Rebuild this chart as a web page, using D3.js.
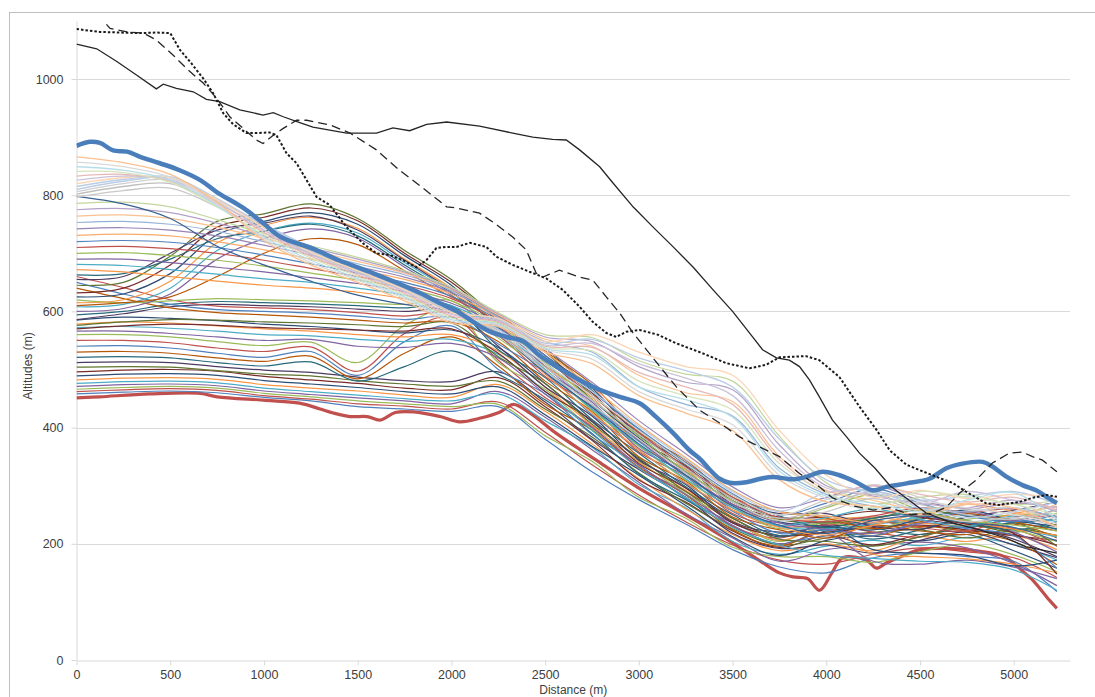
<!DOCTYPE html>
<html><head><meta charset="utf-8">
<script src="https://cdn.jsdelivr.net/npm/d3@7/dist/d3.min.js"></script>
<style>
body{margin:0;background:#fff;}
svg{display:block;font-family:"Liberation Sans",Arial,sans-serif;}
</style></head><body>
<svg id="chart" width="1095" height="697"></svg>
<script>
// ---------- data ----------
const distances = [0,250,500,750,1000,1250,1500,1750,2000,2250,2500,2750,3000,3250,3500,3750,4000,4250,4500,4750,5000,5230];
const xTicks = [0,500,1000,1500,2000,2500,3000,3500,4000,4500,5000];
const yTicks = [0,200,400,600,800,1000];
const xTitle = "Distance (m)";
const yTitle = "Altitudes (m)";

// low profiles (saturated colours, lowest starting altitudes)
const lowProfiles = [
 [458,461,463,460,452,446,436,432,428, 436,380,324,276,234,190,160,150,176,184,178,170,118],
 [462,465,467,464,455,449,441,437,432, 444,392,336,284,238,198,172,165,182,193,186,176,142],
 [466,469,471,468,459,453,446,441,436, 440,386,342,280,244,194,178,178,168,186,200,181,152],
 [471,474,475,472,463,457,451,446,441, 462,418,362,306,252,210,170,190,197,203,193,166,128],
 [476,479,480,477,468,462,456,450,446, 458,412,366,302,262,204,182,196,206,197,211,199,172],
 [482,485,486,483,474,468,463,456,452, 474,428,372,312,260,216,188,200,188,212,204,214,190],
 [489,492,493,490,481,475,469,462,458, 470,422,368,318,266,212,180,206,213,205,216,188,158],
 [496,499,500,497,488,482,476,468,465, 486,436,378,310,272,222,194,214,198,216,222,214,206],
 [504,505,504,498,492,489,481,475,471, 480,432,384,322,270,226,198,210,220,224,210,226,214],
 [512,513,512,505,499,495,487,481,479, 496,444,380,328,280,218,192,198,184,206,220,198,176],
 [521,522,520,512,506,513,480,505,532, 492,448,390,320,276,230,200,222,226,216,229,236,242],
 [530,531,528,520,514,523,484,528,556, 506,440,396,332,284,224,196,226,214,230,221,204,164],
 [540,541,537,528,521,531,490,548,575, 500,458,388,336,278,236,206,214,234,237,228,242,224],
 [550,550,546,537,531,539,497,562,590, 516,452,402,330,290,230,210,234,220,212,236,226,196],
 [560,560,556,548,541,547,512,576,602, 512,466,398,342,286,240,204,240,242,226,242,250,252],
 [566,566,562,556,550,552,540,538,545, 520,458,400,335,285,232,200,218,170,165,172,160,140],
 [572,574,571,566,560,558,552,548,552, 526,462,395,330,280,228,198,180,175,170,168,155,120],
 [578,582,580,575,570,566,560,556,560, 532,470,404,340,292,240,206,228,182,178,174,165,150],
 [585,590,588,584,578,574,568,563,568, 538,476,410,346,296,244,212,232,190,184,180,162,172]
];
// tangled band around 600 m
const bandProfiles = [
 [570,575,578,576,572,570,568,566,570, 528,462,412,338,296,236,214,220,228,232,224,216,198],
 [576,582,586,585,582,580,577,574,580, 522,476,406,348,290,244,208,204,196,212,232,220,234],
 [586,596,608,612,610,608,604,600,602, 540,470,420,344,302,238,220,230,236,241,230,208,178],
 [594,600,612,617,615,613,610,606,610, 534,486,414,356,298,250,214,224,208,224,246,236,226],
 [640,622,606,598,594,590,585,580,582, 548,480,428,350,308,246,224,210,232,222,216,234,210],
 [650,630,612,603,600,597,592,586,590, 544,494,422,362,304,256,218,224,214,236,226,214,158],
 [660,641,620,609,606,603,598,592,598, 558,488,436,358,316,252,230,232,240,228,222,246,246],
 [620,615,618,622,620,618,615,612,618, 554,500,430,368,310,262,226,236,226,244,236,224,204]
];
// profiles rising to the 750-785 m ridge
const ridgeProfiles = [
 [600,605,630,690,725,742,726,676,628, 566,498,444,364,322,258,236,238,246,251,240,220,186],
 [608,612,640,705,738,752,735,684,634, 560,510,438,376,316,266,230,226,234,246,253,228,212],
 [615,620,652,718,748,762,743,690,640, 578,506,452,370,328,262,242,242,246,236,232,252,264],
 [625,630,665,732,755,770,750,696,645, 572,520,448,382,324,272,238,230,224,242,258,240,230],
 [632,640,680,745,762,778,756,700,650, 584,516,460,378,334,268,246,246,256,246,234,218,148],
 [645,650,695,755,768,785,760,705,655, 588,530,456,390,330,278,242,236,244,258,248,240,196],
 [655,660,700,740,752,764,740,688,638, 592,524,468,386,340,274,252,252,230,225,246,258,272],
 [663,665,690,725,738,750,730,680,632, 580,536,464,396,336,284,248,228,244,252,236,224,238],
 [610,615,625,660,700,725,715,670,625, 594,532,474,392,344,280,256,244,226,238,252,238,222]
];
// middle profiles
const midProfiles = [
 [672,668,660,652,645,640,633,622,606, 565,492,425,362,305,258,228,215,232,250,238,225,215],
 [681,679,672,664,656,650,640,628,610, 570,500,432,370,312,262,232,245,260,242,230,248,238],
 [690,690,684,676,668,658,648,634,614, 574,505,440,378,318,268,236,225,218,235,255,240,260],
 [700,701,696,688,678,666,654,640,618, 578,512,448,385,325,274,240,262,285,258,240,232,222],
 [710,712,708,700,688,674,660,645,622, 582,518,455,392,332,280,245,238,248,262,255,260,245],
 [720,722,719,710,697,682,666,650,626, 585,524,462,398,340,286,250,270,295,270,248,238,250],
 [731,733,730,720,706,690,672,655,630, 588,530,470,405,348,292,255,248,236,252,268,255,230],
 [742,744,740,730,714,697,677,659,633, 592,536,478,412,355,298,262,280,300,275,260,270,262],
 [753,755,750,738,720,702,682,663,636, 590,548,530,470,440,420,330,285,265,262,255,262,245],
 [764,766,760,745,726,706,686,666,638, 594,552,540,490,460,445,350,292,275,258,270,250,268],
 [775,777,770,752,730,710,690,668,640, 596,556,548,505,478,465,370,300,282,270,262,275,255],
 [786,788,780,758,734,713,693,670,642, 598,560,555,515,492,480,385,305,270,280,285,268,275],
 [798,785,760,712,680,652,628,612,600, 560,495,435,372,318,265,232,218,240,248,236,228,205]
];
// upper pale profiles, just under the thick blue one
const highProfiles = [
 [797,808,812,780,740,700,668,635,598, 560,498,440,380,322,272,240,255,278,255,238,245,230],
 [802,815,820,786,744,704,671,637,600, 563,504,447,388,330,278,244,265,290,268,250,242,258],
 [806,820,826,790,748,708,674,640,602, 566,510,455,395,338,284,250,276,302,280,258,262,240],
 [810,824,830,792,750,710,676,642,604, 569,515,462,402,345,290,256,288,292,262,245,255,272],
 [815,827,832,794,748,705,672,639,601, 586,545,552,520,498,470,380,310,288,275,282,290,268],
 [820,830,830,792,745,702,670,637,598, 588,548,560,530,505,490,395,318,280,292,278,285,280],
 [826,833,827,788,740,698,666,634,595, 584,542,545,510,485,455,360,296,285,268,290,275,262],
 [833,836,824,784,736,695,663,631,592, 582,540,538,495,470,440,345,290,300,285,272,280,258],
 [841,839,822,780,732,692,660,628,589, 580,538,532,480,455,430,338,288,262,290,280,268,250],
 [849,843,826,782,728,688,657,625,586, 578,536,525,470,448,418,325,282,270,255,275,288,242],
 [857,849,831,785,725,684,654,622,583, 576,534,518,462,432,405,318,278,258,272,262,250,235],
 [866,856,836,788,722,680,650,618,580, 574,530,510,455,425,395,310,272,265,250,268,262,228]
];

const redProfile = [[0,451],[125,453],[390,458],[660,459],[750,453],[1010,447],[1190,442],[1300,432],[1370,425],[1460,419],[1550,419],[1620,413],[1700,426],[1800,427],[1940,419],[2045,410],[2150,416],[2260,427],[2330,440],[2420,425],[2560,390],[2800,338],[3000,296],[3250,250],[3450,212],[3640,172],[3750,150],[3822,143],[3900,140],[3964,120],[4030,150],[4088,176],[4214,172],[4267,158],[4320,167],[4390,177],[4500,190],[4650,192],[4800,188],[4950,178],[5050,152],[5100,138],[5190,103],[5230,89]];

const blueProfile = [[0,885],[70,892],[125,890],[195,877],[270,875],[340,866],[445,855],[550,843],[660,826],[750,805],[890,778],[995,752],[1090,728],[1260,708],[1400,688],[1580,666],[1710,649],[1830,632],[1940,614],[2030,600],[2116,582],[2200,566],[2294,556],[2381,549],[2471,524],[2560,505],[2684,482],[2791,465],[2898,453],[3004,442],[3093,418],[3182,391],[3270,361],[3330,345],[3380,327],[3431,312],[3484,305],[3573,306],[3650,312],[3715,315],[3822,311],[3892,315],[3981,324],[4070,318],[4160,306],[4246,292],[4321,298],[4428,304],[4550,312],[4640,330],[4726,338],[4833,341],[4886,333],[4958,316],[5046,301],[5119,292],[5174,281],[5230,270]];

const blackSolid = [[0,1060],[108,1052],[215,1030],[320,1007],[426,983],[463,991],[533,984],[623,978],[693,965],[764,961],[871,947],[995,938],[1050,942],[1103,935],[1191,925],[1261,917],[1441,907],[1600,907],[1688,916],[1777,911],[1868,922],[1975,926],[2150,919],[2327,907],[2434,900],[2540,896],[2613,895],[2684,878],[2791,849],[2862,821],[2969,780],[3076,745],[3183,711],[3290,676],[3396,637],[3500,600],[3590,563],[3660,534],[3734,520],[3803,516],[3857,505],[3910,482],[3963,453],[4033,413],[4108,384],[4177,356],[4260,330],[4340,300],[4420,280],[4533,253],[4673,236],[4817,224],[4958,210],[5064,195],[5230,184]];

const blackDotted = [[0,1086],[125,1081],[339,1079],[426,1080],[500,1079],[552,1050],[605,1030],[676,1001],[730,975],[783,941],[836,922],[907,907],[960,907],[1031,908],[1067,903],[1121,872],[1174,855],[1281,797],[1351,783],[1441,745],[1529,717],[1600,700],[1671,697],[1742,688],[1813,676],[1866,688],[1920,709],[1975,711],[2027,711],[2099,718],[2186,711],[2241,694],[2327,680],[2434,666],[2505,657],[2594,637],[2684,608],[2754,582],[2826,563],[2879,556],[2933,565],[3004,568],[3100,560],[3200,545],[3324,530],[3466,511],[3590,502],[3679,508],[3750,521],[3892,523],[3963,516],[4070,487],[4177,436],[4268,396],[4338,361],[4428,336],[4535,322],[4606,313],[4673,305],[4744,290],[4851,270],[4922,267],[5030,272],[5099,279],[5174,284],[5230,281]];

const blackDashed = [[110,1112],[179,1087],[269,1081],[357,1079],[426,1067],[516,1041],[587,1018],[676,993],[747,967],[818,935],[889,915],[960,895],[995,889],[1050,903],[1103,915],[1174,929],[1228,929],[1351,921],[1459,907],[1600,878],[1723,843],[1849,812],[1975,780],[2027,778],[2150,769],[2221,754],[2327,728],[2399,706],[2452,666],[2488,659],[2576,671],[2684,659],[2754,654],[2826,625],[2898,597],[2969,563],[3100,510],[3200,470],[3324,430],[3431,408],[3537,384],[3644,367],[3750,350],[3857,321],[3963,298],[4033,279],[4150,265],[4250,258],[4340,262],[4450,250],[4560,252],[4640,263],[4710,287],[4800,310],[4886,339],[4976,356],[5046,358],[5100,350],[5153,344],[5230,324]];

// ---------- drawing ----------
const svg = d3.select('#chart');
const x = d3.scaleLinear().domain([0,5300]).range([76.5,1070]);
const y = d3.scaleLinear().domain([0,1100]).range([660,20.9]);
const axisCol = '#D9D9D9', textCol = '#404040';

svg.append('rect').attr('x',9.5).attr('y',12.5).attr('width',1100).attr('height',700)
  .attr('fill','#fff').attr('stroke','#BFBFBF').attr('stroke-width',1);

// gridlines
svg.append('g').selectAll('line').data(yTicks.filter(d=>d>0)).join('line')
  .attr('x1',x(0)).attr('x2',x(5300)).attr('y1',d=>Math.round(y(d))+0.5).attr('y2',d=>Math.round(y(d))+0.5)
  .attr('stroke',axisCol).attr('stroke-width',1);

// axes
const xAxis = svg.append('g').attr('transform',`translate(0,${Math.round(y(0))+0.5})`)
  .call(d3.axisBottom(x).tickValues(xTicks).tickSize(5).tickSizeOuter(0).tickPadding(5).tickFormat(d3.format('d')));
const yAxis = svg.append('g').attr('transform',`translate(${x(0)},0)`)
  .call(d3.axisLeft(y).tickValues(yTicks).tickSize(5).tickSizeOuter(0).tickPadding(8).tickFormat(d3.format('d')));
[xAxis,yAxis].forEach(a=>{
  a.select('.domain').attr('stroke',axisCol);
  a.selectAll('.tick line').attr('stroke',axisCol);
  a.selectAll('.tick text').attr('fill',textCol).style('font-size','12.5px').style('font-family','"Liberation Sans",Arial,sans-serif');
});

svg.append('text').attr('x',(x(0)+x(5300))/2).attr('y',694).attr('text-anchor','middle')
  .attr('fill',textCol).style('font-size','12px').text(xTitle);
svg.append('text').attr('transform','translate(32,366) rotate(-90)').attr('text-anchor','middle')
  .attr('fill',textCol).style('font-size','12px').text(yTitle);

// clip
svg.append('clipPath').attr('id','plotClip').append('rect')
  .attr('x',x(0)).attr('y',y(1100)).attr('width',x(5300)-x(0)).attr('height',y(0)-y(1100));
const plot = svg.append('g').attr('clip-path','url(#plotClip)');

const gridLine = d3.line().x((d,i)=>x(distances[i])).y(d=>y(d)).curve(d3.curveCatmullRom.alpha(0.5));
const pairLine = d3.line().x(d=>x(d[0])).y(d=>y(d[1])).curve(d3.curveCatmullRom.alpha(0.5));
const pairLinear = d3.line().x(d=>x(d[0])).y(d=>y(d[1]));

const darkPalette = ['#4F81BD','#C0504D','#9BBB59','#8064A2','#4BACC6','#F79646','#2C4D75','#772C2A','#5F7530','#4D3B62','#276A7C','#B65708'];
const midPalette = ['#F79646','#4BACC6','#8064A2','#9BBB59','#C0504D','#4F81BD','#F9AB6B','#9983B5','#95B3D7','#FAC090','#B3A2C7','#C3D69B','#376092'];
const lightPalette = ['#C8C8C8','#BFBFBF','#D0D0D0','#B9CDE5','#B9CDE5','#FCD5B5','#CCC1DA','#E6B9B8','#D7E4BD','#B7DEE8','#D9D9D9','#FAC090'];

// thick red first (underneath)
plot.append('path').datum(redProfile).attr('d',pairLine).attr('fill','none')
  .attr('stroke','#C0504D').attr('stroke-width',3.2).attr('stroke-linejoin','round');

const dark = lowProfiles.concat(bandProfiles, ridgeProfiles);
plot.append('g').selectAll('path').data(dark).join('path')
  .attr('d',gridLine).attr('fill','none').attr('stroke',(d,i)=>darkPalette[i%darkPalette.length]).attr('stroke-width',1.2);
plot.append('g').selectAll('path').data(midProfiles).join('path')
  .attr('d',gridLine).attr('fill','none').attr('stroke',(d,i)=>midPalette[i%midPalette.length]).attr('stroke-width',1.2);
plot.append('g').selectAll('path').data(highProfiles).join('path')
  .attr('d',gridLine).attr('fill','none').attr('stroke',(d,i)=>lightPalette[i%lightPalette.length]).attr('stroke-width',1.3);

// thick blue
plot.append('path').datum(blueProfile).attr('d',pairLine).attr('fill','none')
  .attr('stroke','#4A7EBB').attr('stroke-width',4.5).attr('stroke-linejoin','round');

// black references
plot.append('path').datum(blackSolid).attr('d',pairLinear).attr('fill','none')
  .attr('stroke','#262626').attr('stroke-width',1.3);
plot.append('path').datum(blackDotted).attr('d',pairLinear).attr('fill','none')
  .attr('stroke','#1a1a1a').attr('stroke-width',2).attr('stroke-dasharray','2.5,2');
plot.append('path').datum(blackDashed).attr('d',pairLinear).attr('fill','none')
  .attr('stroke','#262626').attr('stroke-width',1.3).attr('stroke-dasharray','9,5');
</script>
</body></html>
